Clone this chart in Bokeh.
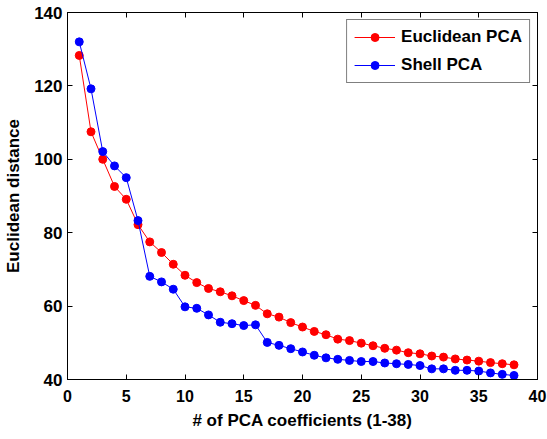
from bokeh.plotting import figure
from bokeh.models import LinearAxis, FixedTicker, Range1d, Legend, LegendItem, CustomJSTickFormatter
from bokeh.embed import file_html
from bokeh.resources import INLINE

coeffs = list(range(1, 39))
euclidean_pca = [128.3, 107.5, 100.0, 92.6, 89.1, 82.2, 77.5, 74.6, 71.4, 68.4, 66.4, 64.8, 63.9, 62.8, 61.5,
                 60.2, 57.9, 57.0, 55.5, 54.3, 53.1, 52.2, 51.0, 50.6, 49.9, 49.2, 48.5, 48.0, 47.3, 47.0,
                 46.4, 46.1, 45.6, 45.3, 45.0, 44.6, 44.3, 44.0]
shell_pca = [132.0, 119.2, 102.1, 98.2, 95.0, 83.3, 68.1, 66.6, 64.6, 59.8, 59.4, 57.6, 55.6, 55.2, 54.7,
             54.9, 50.1, 49.3, 48.4, 47.5, 46.6, 45.9, 45.5, 45.2, 44.9, 44.9, 44.5, 44.3, 44.1, 43.8,
             42.9, 42.9, 42.5, 42.5, 42.3, 41.8, 41.4, 41.1]
x_ticks = [0, 5, 10, 15, 20, 25, 30, 35, 40]
y_ticks = [40, 60, 80, 100, 120, 140]

FONT = "Liberation Sans"

p = figure(width=547, height=439, output_backend="svg", toolbar_location=None,
           x_range=Range1d(0, 40), y_range=Range1d(40, 140),
           min_border_left=67, min_border_right=10, min_border_top=12, min_border_bottom=60)
p.grid.visible = False
p.outline_line_color = "black"
p.outline_line_width = 1
p.background_fill_color = "white"
p.border_fill_color = "white"

def style_axis(ax, ticks, size="16px", show_labels=True):
    ax.ticker = FixedTicker(ticks=ticks)
    ax.major_tick_in = 5
    ax.major_tick_out = 0
    ax.minor_tick_line_color = None
    ax.axis_line_color = "black"
    ax.major_tick_line_color = "black"
    ax.major_label_text_font = FONT
    ax.major_label_text_font_style = "bold"
    ax.major_label_text_font_size = size
    ax.major_label_text_color = "black"
    ax.axis_label_text_font = FONT
    ax.axis_label_text_font_style = "bold"
    ax.axis_label_text_font_size = "17px"
    ax.axis_label_text_color = "black"
    if not show_labels:
        ax.formatter = CustomJSTickFormatter(code="return ''")
        ax.major_label_standoff = 0
        ax.major_label_text_font_size = "0px"

xa = p.xaxis[0]
ya = p.yaxis[0]
style_axis(xa, x_ticks, size="16px")
style_axis(ya, y_ticks, size="17px")
xa.axis_label = "# of PCA coefficients (1-38)"
ya.axis_label = "Euclidean distance"
xa.major_label_standoff = 10
ya.major_label_standoff = 5
xa.axis_label_standoff = 6
ya.axis_label_standoff = 8

top = LinearAxis()
right = LinearAxis()
style_axis(top, x_ticks, show_labels=False)
style_axis(right, y_ticks, show_labels=False)
p.add_layout(top, "above")
p.add_layout(right, "right")

r1 = p.line(coeffs, euclidean_pca, line_color="#ff0000", line_width=1)
s1 = p.scatter(coeffs, euclidean_pca, size=8, fill_color="#ff0000", line_color="#ff0000")
r2 = p.line(coeffs, shell_pca, line_color="#0000ff", line_width=1)
s2 = p.scatter(coeffs, shell_pca, size=8, fill_color="#0000ff", line_color="#0000ff")

legend = Legend(items=[LegendItem(label="Euclidean PCA", renderers=[r1, s1]),
                       LegendItem(label="Shell PCA", renderers=[r2, s2])],
                location="top_right")
legend.label_text_font = FONT
legend.label_text_font_style = "bold"
legend.label_text_font_size = "17px"
legend.label_text_color = "black"
legend.glyph_width = 41
legend.glyph_height = 20
legend.label_height = 20
legend.label_standoff = 6
legend.padding = 7
legend.spacing = 8
legend.margin = 7
legend.border_line_color = "black"
legend.border_line_width = 1
legend.background_fill_alpha = 1
p.add_layout(legend)

open("out.html", "w").write(file_html(p, INLINE))
